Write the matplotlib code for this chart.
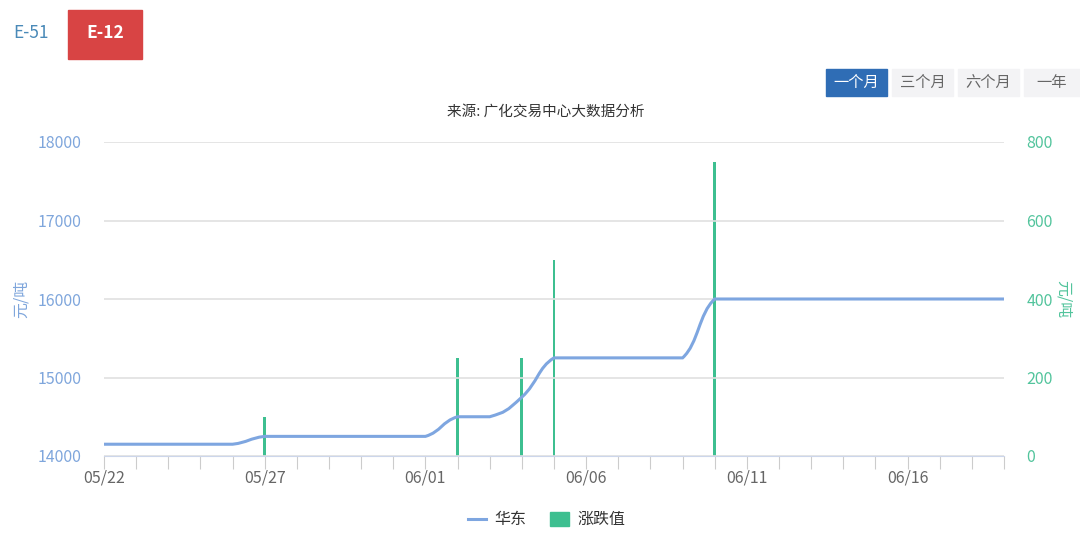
import numpy as np
import matplotlib.pyplot as plt
from matplotlib.path import Path
from matplotlib.patches import PathPatch, Rectangle

plt.rcParams['font.family'] = ['Noto Sans CJK SC', 'DejaVu Sans']

# data
dates = ['05/22', '05/23', '05/24', '05/25', '05/26', '05/27', '05/28', '05/29',
         '05/30', '05/31', '06/01', '06/02', '06/03', '06/04', '06/05', '06/06',
         '06/07', '06/08', '06/09', '06/10', '06/11', '06/12', '06/13', '06/14',
         '06/15', '06/16', '06/17', '06/18', '06/19']
huadong = [14150, 14150, 14150, 14150, 14150, 14250, 14250, 14250,
           14250, 14250, 14250, 14500, 14500, 14750, 15250, 15250,
           15250, 15250, 15250, 16000, 16000, 16000, 16000, 16000,
           16000, 16000, 16000, 16000, 16000]
change = [0, 0, 0, 0, 0, 100, 0, 0,
          0, 0, 0, 250, 0, 250, 500, 0,
          0, 0, 0, 750, 0, 0, 0, 0,
          0, 0, 0, 0, 0]

line_c = '#7ea6e0'
bar_c = '#3dbf90'
left_c = '#7fa6dc'
right_c = '#52c49c'

fig = plt.figure(figsize=(10.8, 5.36), dpi=100)
ax = fig.add_axes([104/1080, 1-456/536, 900/1080, 314/536])
ax2 = ax.twinx()

x = np.arange(len(dates))

# smooth line like echarts (bezier through points, clamped)
y = np.array(huadong, dtype=float)
sm = 0.5
verts = [(x[0], y[0])]
codes = [Path.MOVETO]
def ctrl(i):
    p = np.array([x[i], y[i]])
    prev = np.array([x[max(i-1, 0)], y[max(i-1, 0)]])
    nxt = np.array([x[min(i+1, len(x)-1)], y[min(i+1, len(x)-1)]])
    v = (nxt - prev) * sm * 0.5
    c0 = p - v
    c1 = p + v
    c0[1] = np.clip(c0[1], min(prev[1], p[1]), max(prev[1], p[1]))
    c1[1] = np.clip(c1[1], min(nxt[1], p[1]), max(nxt[1], p[1]))
    return c0, c1
for i in range(len(x)-1):
    _, a = ctrl(i)
    b, _ = ctrl(i+1)
    verts += [tuple(a), tuple(b), (x[i+1], y[i+1])]
    codes += [Path.CURVE4]*3
ax.add_patch(PathPatch(Path(verts, codes), fill=False, ec=line_c, lw=2.2, zorder=3))

ax2.bar(x, change, width=0.09, color=bar_c, zorder=4)

ax.set_xlim(0, len(x)-1)
ax.set_ylim(14000, 18000)
ax2.set_ylim(0, 800)
ax.set_yticks(range(14000, 18001, 1000))
ax2.set_yticks(range(0, 801, 200))
ax.grid(axis='y', color='#e0e0e0', lw=1.2)
ax.set_axisbelow(True)
ax.set_zorder(ax2.get_zorder()+1)
ax.patch.set_visible(False)

for a in (ax, ax2):
    for s in a.spines.values():
        s.set_visible(False)
ax.spines['bottom'].set_visible(True)
ax.spines['bottom'].set_color('#ccd6eb')

ax.set_xticks(x)
ax.set_xticklabels([d if i % 5 == 0 else '' for i, d in enumerate(dates)])
ax.tick_params(axis='x', length=9, color='#cccccc', labelsize=11.5, labelcolor='#666666', pad=1)
ax.tick_params(axis='y', length=0, labelsize=11.5, labelcolor=left_c, pad=16)
ax2.tick_params(axis='y', length=0, labelsize=11.5, labelcolor=right_c, pad=16)
ax2.tick_params(axis='x', length=0)

ax.set_ylabel('元/吨', color=left_c, fontsize=11.5, labelpad=6)
ax2.set_ylabel('元/吨', color=right_c, fontsize=11.5, rotation=-90, labelpad=14)

fig.text(546/1080, 1-112/536, '来源: 广化交易中心大数据分析', ha='center', va='center',
         fontsize=10.5, color='#333333')

# top tabs
fig.text(31/1080, 1-33/536, 'E-51', ha='center', va='center', fontsize=12.5, color='#4a8ab8')
fig.patches.append(Rectangle((68/1080, 1-59/536), 74/1080, 49/536, transform=fig.transFigure,
                             color='#d84444', zorder=0))
fig.text(105/1080, 1-33/536, 'E-12', ha='center', va='center', fontsize=12.5,
         color='white', fontweight='bold')

btns = ['一个月', '三个月', '六个月', '一年']
bx = [826, 892, 958, 1024]
bw = [61, 61, 61, 56]
for i, (t, xx, w) in enumerate(zip(btns, bx, bw)):
    fc = '#2f6db5' if i == 0 else '#f3f3f5'
    tc = 'white' if i == 0 else '#666666'
    fig.patches.append(Rectangle((xx/1080, 1-96/536), w/1080, 27/536, transform=fig.transFigure,
                                 color=fc, zorder=0))
    fig.text((xx + w/2)/1080, 1-82.5/536, t, ha='center', va='center', fontsize=11, color=tc)

# legend
fig.lines.append(plt.Line2D([468/1080, 486/1080], [1-519/536]*2, color=line_c, lw=2.2,
                            transform=fig.transFigure))
fig.text(494/1080, 1-519/536, '华东', ha='left', va='center', fontsize=11.5, color='#333333')
fig.patches.append(Rectangle((550/1080, 1-526/536), 19/1080, 14/536, transform=fig.transFigure,
                             color=bar_c))
fig.text(577/1080, 1-519/536, '涨跌值', ha='left', va='center', fontsize=11.5, color='#333333')

fig.savefig('out.png', dpi=100)
